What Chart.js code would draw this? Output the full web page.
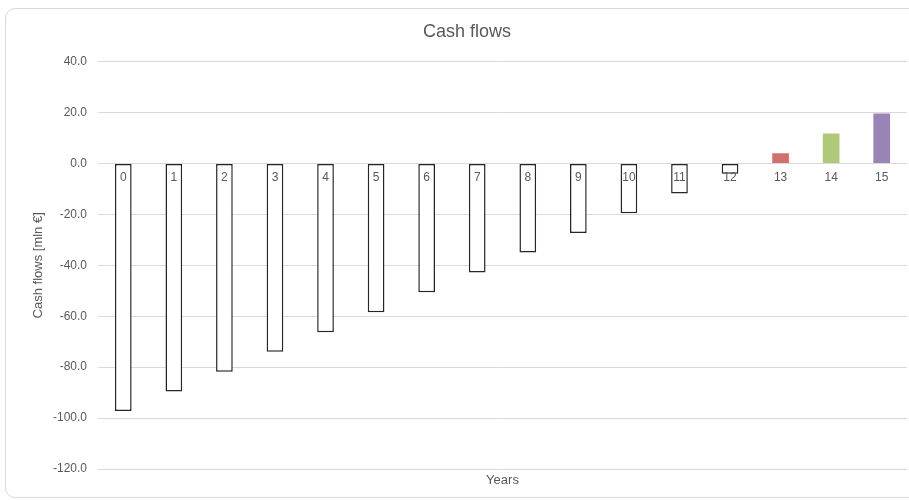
<!DOCTYPE html>
<html>
<head>
<meta charset="utf-8">
<script src="https://cdn.jsdelivr.net/npm/chart.js@4/dist/chart.umd.min.js"></script>
<style>
  html, body { margin: 0; padding: 0; background: #ffffff; width: 909px; height: 500px; overflow: hidden; }
  #frame { position: absolute; left: 5px; top: 8px; width: 930px; height: 488px; border: 1px solid #d9d9d9; border-radius: 10px; }
  #c { position: absolute; left: 0; top: 0; }
</style>
</head>
<body>
<div id="frame"></div>
<canvas id="c" width="909" height="500"></canvas>
<script>
const years = ['0','1','2','3','4','5','6','7','8','9','10','11','12','13','14','15'];
const cashFlows = [-97.2, -89.6, -81.8, -74.0, -66.3, -58.4, -50.6, -42.8, -35.0, -27.3, -19.6, -11.8, -4.0, 4.0, 11.8, 19.6];
const yTicks = [40, 20, 0, -20, -40, -60, -80, -100, -120];

const posColors = ['#D0706F', '#AFC97A', '#9A83B5'];
let posIdx = 0;
const fills = cashFlows.map(v => v < 0 ? '#ffffff' : posColors[(posIdx++) % posColors.length]);
const borders = cashFlows.map((v, i) => v < 0 ? '#262626' : fills[i]);
const borderWidths = cashFlows.map(v => v < 0 ? 1.5 : 0);

new Chart(document.getElementById('c'), {
  type: 'bar',
  data: {
    labels: years,
    datasets: [{
      data: cashFlows,
      backgroundColor: fills,
      borderColor: borders,
      borderWidth: borderWidths,
      borderSkipped: false,
      barPercentage: 0.33,
      categoryPercentage: 1.0,
      xAxisID: 'x'
    }]
  },
  options: {
    responsive: false,
    animation: false,
    layout: { padding: { left: 27, right: 2, top: 0, bottom: 9 } },
    plugins: {
      legend: { display: false },
      tooltip: { enabled: false },
      title: {
        display: true,
        text: 'Cash flows',
        color: '#595959',
        font: { family: 'Liberation Sans, Arial, sans-serif', size: 18, weight: 'normal' },
        padding: { top: 21, bottom: 19 }
      }
    },
    scales: {
      x: {
        type: 'category',
        position: { y: 0 },
        offset: true,
        grid: { display: false, drawTicks: false },
        border: { display: false },
        ticks: {
          z: 1,
          color: '#595959',
          font: { family: 'Liberation Sans, Arial, sans-serif', size: 12 },
          padding: 7,
          maxRotation: 0,
          autoSkip: false
        }
      },
      xTitle: {
        type: 'category',
        position: 'bottom',
        labels: years,
        grid: { display: false, drawTicks: false },
        border: { display: false },
        ticks: { display: false },
        title: {
          display: true,
          text: 'Years',
          color: '#595959',
          font: { family: 'Liberation Sans, Arial, sans-serif', size: 13 },
          padding: { top: 4, bottom: 3 }
        },
        afterFit: s => { s.height = 22; }
      },
      y: {
        min: -120,
        max: 40,
        afterBuildTicks: s => { s.ticks = yTicks.map(v => ({ value: v })); },
        grid: { color: '#d9d9d9', lineWidth: 1, drawTicks: false },
        border: { display: false },
        ticks: {
          color: '#595959',
          font: { family: 'Liberation Sans, Arial, sans-serif', size: 12 },
          padding: 11,
          callback: v => Number(v).toFixed(1)
        },
        title: {
          display: true,
          text: 'Cash flows [mln €]',
          color: '#595959',
          font: { family: 'Liberation Sans, Arial, sans-serif', size: 13 },
          padding: { top: 4, bottom: 4 }
        },
        afterFit: s => { s.width = 71; }
      }
    }
  }
});
</script>
</body>
</html>
